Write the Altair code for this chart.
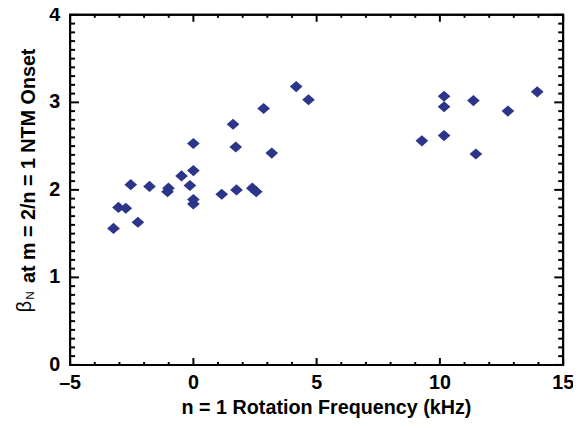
import altair as alt
import pandas as pd

# Rotation frequency (kHz) and beta_N at NTM onset
freq = [-3.24, -3.04, -2.74, -2.25, -2.54, -1.78, -1.01, -1.05, -0.48, -0.14,
        0.0, 0.0, 0.0, 0.0, 1.15, 1.75, 1.61, 1.72, 2.39, 2.55,
        2.85, 3.18, 4.17, 4.67, 9.27, 10.17, 10.17, 10.17, 11.36, 11.46,
        12.76, 13.95]
beta = [1.56, 1.80, 1.79, 1.63, 2.06, 2.04, 2.02, 1.98, 2.16, 2.05,
        2.22, 2.53, 1.89, 1.84, 1.95, 2.00, 2.75, 2.49, 2.02, 1.98,
        2.93, 2.42, 3.18, 3.03, 2.56, 3.07, 2.95, 2.62, 3.02, 2.41,
        2.90, 3.12]

x_major = [-5, 0, 5, 10, 15]
x_labels = ["\u20135", "0", "5", "10", "15"]
x_minor = [-4, -3, -2, -1, 1, 2, 3, 4, 6, 7, 8, 9, 11, 12, 13, 14]
y_major = [0, 1, 2, 3, 4]
y_labels = ["0", "1", "2", "3", "4"]
y_minor = [i / 10 for i in range(41) if i % 10]

x_title = "n = 1 Rotation Frequency (kHz)"
y_title_sym = "\u03b2"
y_title_sub = "N"
y_title_rest = "at m = 2/n = 1 NTM Onset"

W, H = 500, 355
FONT = "Liberation Sans"
NAVY = "#2b3589"

pts = pd.DataFrame({"f": freq, "b": beta})
xs = alt.Scale(domain=[-5, 15], nice=False, zero=False)
ys = alt.Scale(domain=[0, 4], nice=False, zero=False)

points = alt.Chart(pts).mark_point(
    shape="M-1,0L0,-0.88L1,0L0,0.88Z", filled=True, opacity=1, color=NAVY, size=165
).encode(x=alt.X("f:Q", scale=xs, axis=None), y=alt.Y("b:Q", scale=ys, axis=None))

one = alt.Data(values=[{"a": 1}])

frame = alt.Chart(one).mark_rect(
    fill="transparent", fillOpacity=0, stroke="black", strokeWidth=2
).encode(x=alt.value(0), x2=alt.value(W), y=alt.value(0), y2=alt.value(H))


def vticks(vals, length):
    df = pd.DataFrame({"v": vals})
    base = alt.Chart(df).mark_rule(stroke="black", strokeWidth=2, opacity=1)
    bottom = base.encode(x=alt.X("v:Q", scale=xs, axis=None),
                         y=alt.value(H), y2=alt.value(H - length))
    top = base.encode(x=alt.X("v:Q", scale=xs, axis=None),
                      y=alt.value(0), y2=alt.value(length))
    return [bottom, top]


def hticks(vals, length):
    df = pd.DataFrame({"v": vals})
    base = alt.Chart(df).mark_rule(stroke="black", strokeWidth=2, opacity=1)
    left = base.encode(y=alt.Y("v:Q", scale=ys, axis=None),
                       x=alt.value(0), x2=alt.value(length))
    right = base.encode(y=alt.Y("v:Q", scale=ys, axis=None),
                        x=alt.value(W), x2=alt.value(W - length))
    return [left, right]


title_main = alt.Chart(one).mark_text(
    text=y_title_rest, angle=270, align="left", baseline="alphabetic",
    font=FONT, fontSize=20, fontWeight="bold", color="black"
).encode(x=alt.value(-36), y=alt.value(272))
title_beta = alt.Chart(one).mark_text(
    text=y_title_sym, angle=270, align="right", baseline="alphabetic",
    font=FONT, fontSize=20, color="black"
).encode(x=alt.value(-40), y=alt.value(290))
title_sub = alt.Chart(one).mark_text(
    text=y_title_sub, angle=270, align="left", baseline="alphabetic",
    font=FONT, fontSize=12, color="black"
).encode(x=alt.value(-37), y=alt.value(289))

xtitle = alt.Chart(one).mark_text(
    text=x_title, font=FONT, fontSize=20, fontWeight="bold", color="black",
    align="center", baseline="alphabetic"
).encode(x=alt.value(260), y=alt.value(H + 50))

xlabs = [
    alt.Chart(one).mark_text(
        text=t, font=FONT, fontSize=20, fontWeight="bold", color="black",
        align="center", baseline="alphabetic"
    ).encode(x=alt.XDatum(v, type="quantitative", scale=xs, axis=None),
             y=alt.value(H + 24))
    for v, t in zip(x_major, x_labels)
]
ylabs = [
    alt.Chart(one).mark_text(
        text=t, font=FONT, fontSize=20, fontWeight="bold", color="black",
        align="right", baseline="middle"
    ).encode(y=alt.YDatum(v, type="quantitative", scale=ys, axis=None),
             x=alt.value(-10))
    for v, t in zip(y_major, y_labels)
]

layers = ([points, frame] + vticks(x_major, 7) + vticks(x_minor, 3)
          + hticks(y_major, 9) + hticks(y_minor, 5)
          + [title_main, title_beta, title_sub, xtitle] + xlabs + ylabs)

chart = alt.layer(*layers).properties(
    width=W, height=H,
    autosize=alt.AutoSizeParams(type="none"),
    padding={"left": 63, "top": 4, "right": 10, "bottom": 58},
    background="white",
).configure_view(stroke="black", strokeWidth=2)

chart.save("out.html", embed_options={"renderer": "svg", "actions": False})
